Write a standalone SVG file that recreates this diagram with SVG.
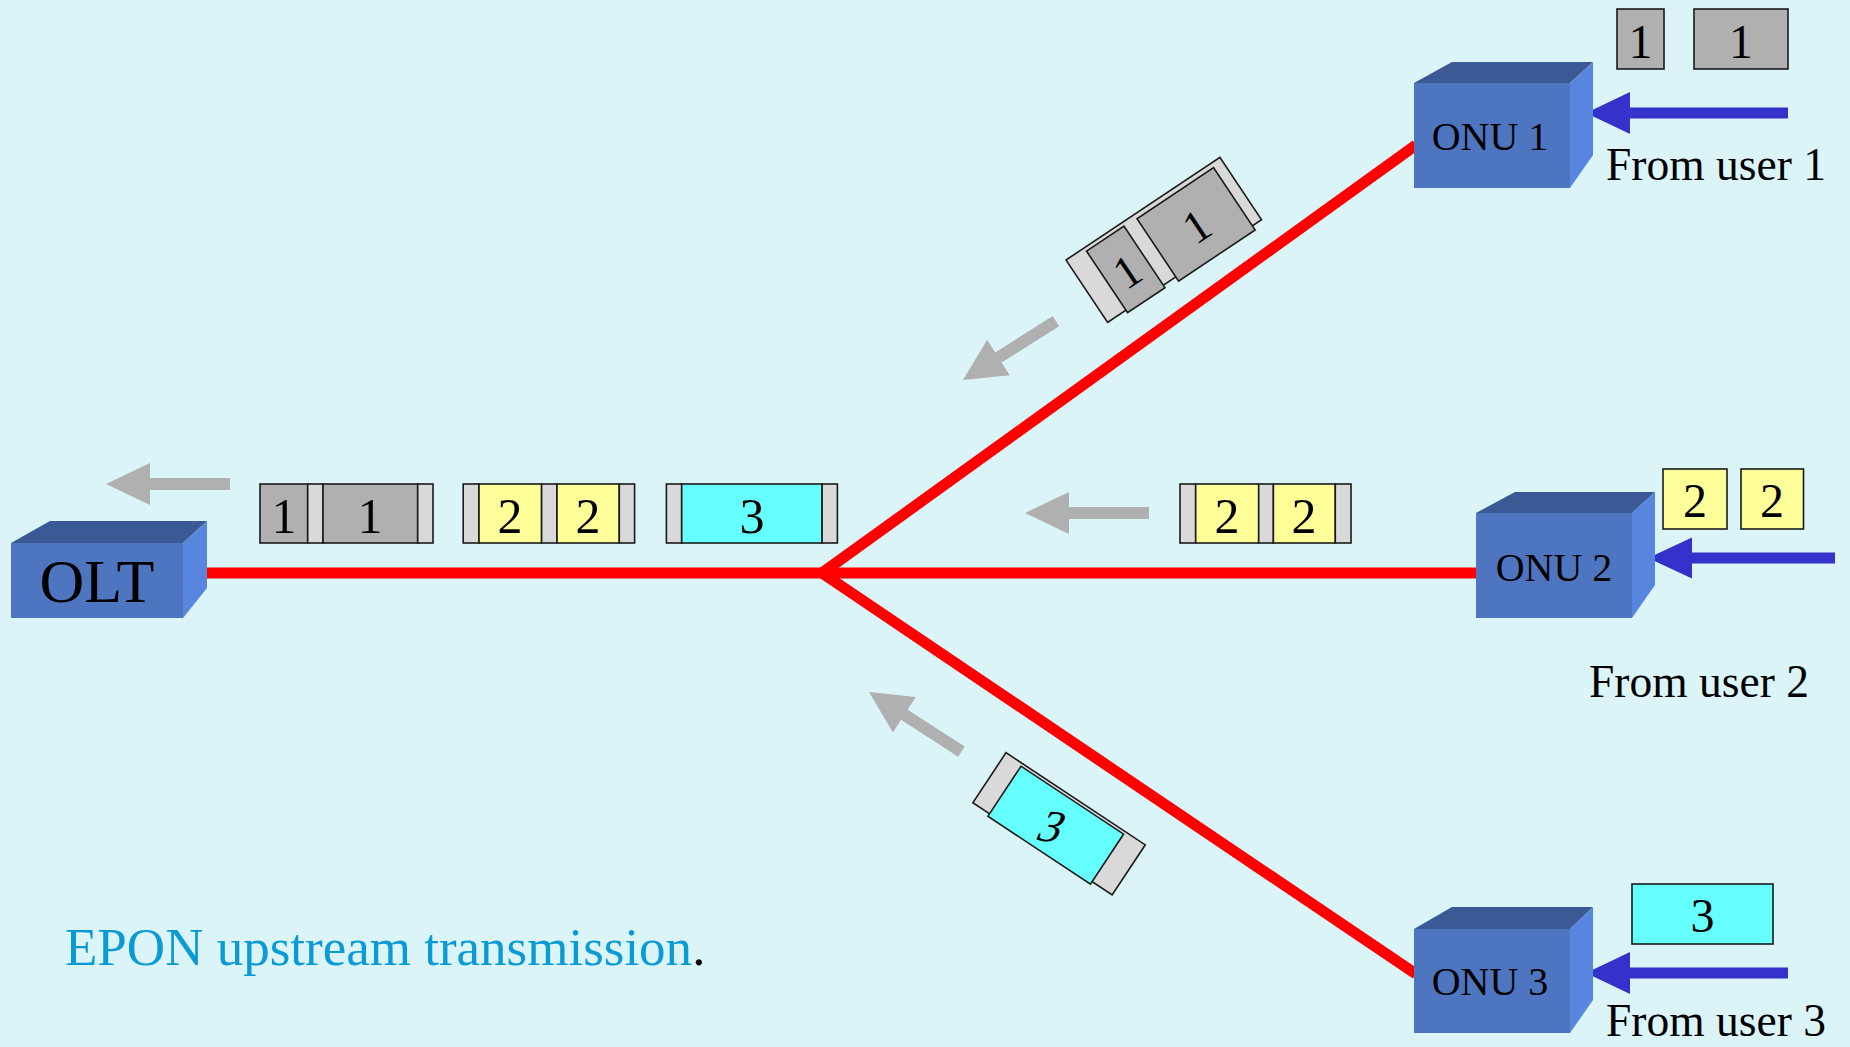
<svg xmlns="http://www.w3.org/2000/svg" width="1850" height="1047" viewBox="0 0 1850 1047">
<style>
.t{font-family:"Liberation Serif","Times New Roman",serif;fill:#000}
.front{fill:#4E76C0}
.top{fill:#3B5995}
.side{fill:#5886DE}
.pk{stroke:#1a1a1a;stroke-width:1.6}
.g{fill:#B0B0B0}
.l{fill:#D9D9D9}
.y{fill:#FFFF99}
.c{fill:#66FFFF}
.fib{stroke:#FF0000;stroke-width:11;fill:none}
.ga{fill:#B0B0B0}
.ba{fill:#3333CC}
</style>
<defs>
<path id="garrow" d="M0,0 L44,-21 L44,-6 L124,-6 L124,6 L44,6 L44,21 Z"/>
<path id="garrowS" d="M0,0 L42,-21 L42,-6 L110,-6 L110,6 L42,6 L42,21 Z"/>
</defs>
<rect x="0" y="0" width="1850" height="1047" fill="#DAF4F7"/>

<g id="connectors">
<polyline class="fib" points="198,573 822,573 1476,573"/>
<line class="fib" x1="822" y1="573" x2="1416" y2="145"/>
<line class="fib" x1="822" y1="573" x2="1416" y2="974"/>
<use href="#garrow" class="ga" x="106" y="484"/>
<use href="#garrow" class="ga" x="1025" y="513"/>
<use href="#garrowS" class="ga" transform="translate(963,380) rotate(-32.4)"/>
<use href="#garrowS" class="ga" transform="translate(869,692) rotate(32.8)"/>
<path class="ba" d="M1586,113 L1630,92 L1630,107.5 L1788,107.5 L1788,118.5 L1630,118.5 L1630,134 Z"/>
<path class="ba" d="M1648,558 L1692,537.5 L1692,552.5 L1835,552.5 L1835,563.5 L1692,563.5 L1692,578.5 Z"/>
<path class="ba" d="M1586,973 L1630,952 L1630,967.5 L1788,967.5 L1788,978.5 L1630,978.5 L1630,994 Z"/>
</g>

<g id="olt">
<rect class="front" x="11" y="543" width="172" height="75"/>
<polygon class="top" points="11,543 50,521 207,521 183,543"/>
<polygon class="side" points="183,543 207,521 207,588 183,618"/>
<text class="t" x="97" y="602" font-size="62" text-anchor="middle">OLT</text>
</g>

<g id="onu1">
<rect class="front" x="1414" y="83" width="156" height="105"/>
<polygon class="top" points="1414,83 1452,62 1593,62 1570,83"/>
<polygon class="side" points="1570,83 1593,62 1593,155 1570,188"/>
<text class="t" x="1490" y="150" font-size="40" text-anchor="middle">ONU 1</text>
</g>

<g id="onu2">
<rect class="front" x="1476" y="513" width="156" height="105"/>
<polygon class="top" points="1476,513 1515,492 1655,492 1632,513"/>
<polygon class="side" points="1632,513 1655,492 1655,585 1632,618"/>
<text class="t" x="1554" y="581" font-size="40" text-anchor="middle">ONU 2</text>
</g>

<g id="onu3">
<rect class="front" x="1414" y="929" width="156" height="104"/>
<polygon class="top" points="1414,929 1452,907 1593,907 1570,929"/>
<polygon class="side" points="1570,929 1593,907 1593,1000 1570,1033"/>
<text class="t" x="1490" y="995" font-size="40" text-anchor="middle">ONU 3</text>
</g>

<g id="user-labels">
<text class="t" x="1606" y="180" font-size="45.5">From user 1</text>
<text class="t" x="1589" y="697" font-size="45.5">From user 2</text>
<text class="t" x="1606" y="1036" font-size="45.5">From user 3</text>
</g>

<g id="user1-packets">
<rect class="pk g" x="1617" y="9" width="47" height="60"/>
<rect class="pk g" x="1694" y="9" width="94" height="60"/>
<text class="t" x="1640.5" y="58" font-size="48" text-anchor="middle">1</text>
<text class="t" x="1741" y="58" font-size="48" text-anchor="middle">1</text>
</g>

<g id="user2-packets">
<rect class="pk y" x="1663" y="469" width="64" height="60"/>
<rect class="pk y" x="1741" y="469" width="62.5" height="60"/>
<text class="t" x="1695" y="517" font-size="48" text-anchor="middle">2</text>
<text class="t" x="1772" y="517" font-size="48" text-anchor="middle">2</text>
</g>

<g id="user3-packet">
<rect class="pk c" x="1632" y="884" width="141" height="60"/>
<text class="t" x="1702.5" y="932" font-size="48" text-anchor="middle">3</text>
</g>

<g id="olt-packets-1">
<rect class="pk g" x="260" y="484" width="47.7" height="59"/>
<rect class="pk l" x="307.7" y="484" width="15.3" height="59"/>
<rect class="pk g" x="323" y="484" width="94.7" height="59"/>
<rect class="pk l" x="417.7" y="484" width="15.3" height="59"/>
<text class="t" x="284" y="533" font-size="50" text-anchor="middle">1</text>
<text class="t" x="370" y="533" font-size="50" text-anchor="middle">1</text>
</g>

<g id="olt-packets-2">
<rect class="pk l" x="463.2" y="484" width="15.8" height="59"/>
<rect class="pk y" x="479" y="484" width="62.6" height="59"/>
<rect class="pk l" x="541.6" y="484" width="15.4" height="59"/>
<rect class="pk y" x="557" y="484" width="62.3" height="59"/>
<rect class="pk l" x="619.3" y="484" width="15.3" height="59"/>
<text class="t" x="510" y="533" font-size="50" text-anchor="middle">2</text>
<text class="t" x="588" y="533" font-size="50" text-anchor="middle">2</text>
</g>

<g id="olt-packets-3">
<rect class="pk l" x="666.4" y="484" width="15.3" height="59"/>
<rect class="pk c" x="681.7" y="484" width="140.4" height="59"/>
<rect class="pk l" x="822.1" y="484" width="15.3" height="59"/>
<text class="t" x="752" y="533" font-size="50" text-anchor="middle">3</text>
</g>

<g id="mid-packets-2">
<rect class="pk l" x="1180" y="484" width="15.7" height="59"/>
<rect class="pk y" x="1195.7" y="484" width="63" height="59"/>
<rect class="pk l" x="1258.7" y="484" width="14.7" height="59"/>
<rect class="pk y" x="1273.4" y="484" width="61.9" height="59"/>
<rect class="pk l" x="1335.3" y="484" width="15.7" height="59"/>
<text class="t" x="1227" y="533" font-size="50" text-anchor="middle">2</text>
<text class="t" x="1304" y="533" font-size="50" text-anchor="middle">2</text>
</g>

<g id="branch1-packets" transform="translate(1066,260) rotate(-33.7)">
<rect class="pk l" x="0" y="0" width="185" height="75"/>
<rect class="pk g" x="22" y="4" width="45" height="74"/>
<rect class="pk g" x="82" y="5" width="92" height="75"/>
<text class="t" x="44.5" y="59" font-size="46" text-anchor="middle">1</text>
<text class="t" x="127.5" y="60" font-size="46" text-anchor="middle">1</text>
</g>

<g id="branch3-packet">
<g transform="translate(1006,752.7) rotate(33.5)">
<rect class="pk l" x="0" y="0" width="167" height="60"/>
<rect class="pk c" x="20" y="3" width="123" height="60"/>
</g>
<text class="t" font-size="46" text-anchor="middle" transform="translate(1052,827) rotate(8) skewX(-18)" x="0" y="15">3</text>
</g>

<g id="caption">
<text x="65" y="965" font-size="53" font-family="'Liberation Serif','Times New Roman',serif" fill="#0A9AD6">EPON upstream transmission<tspan fill="#000">.</tspan></text>
</g>
</svg>
